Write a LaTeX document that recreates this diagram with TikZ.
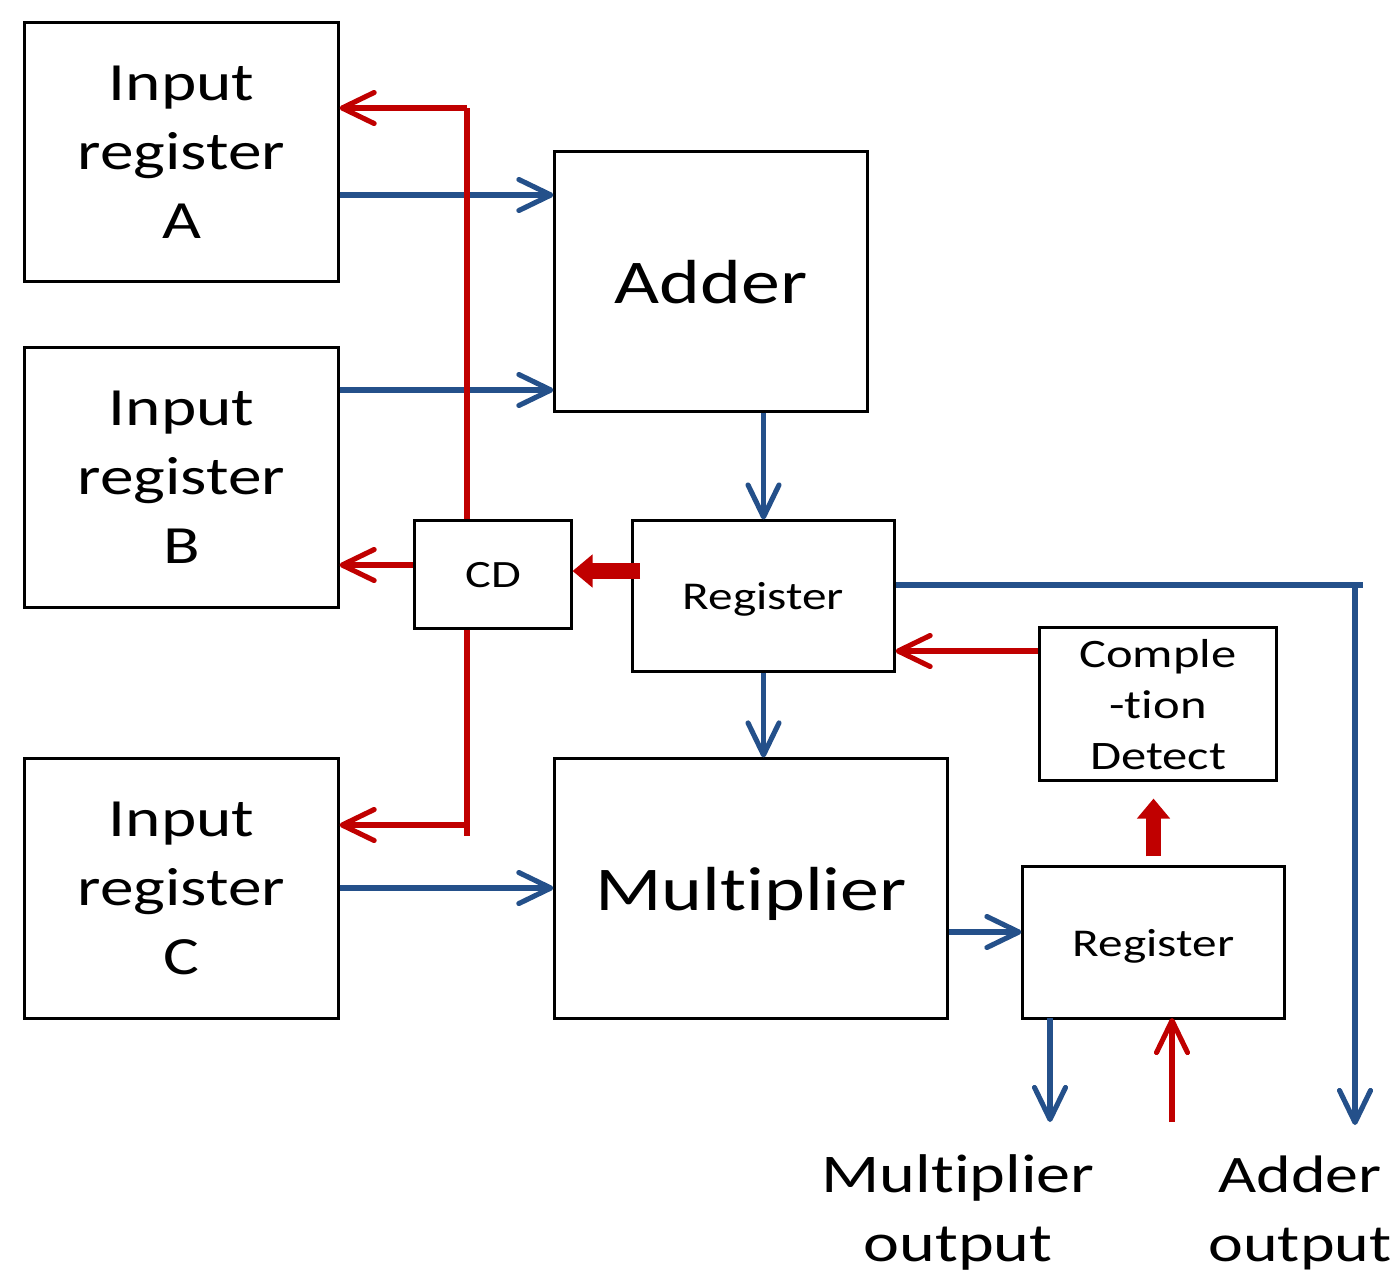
\documentclass[tikz,border=0pt]{standalone}
\usepackage{fontspec}
\setmainfont[FakeStretch=1.25, Ligatures={NoCommon}]{Carlito}
\usetikzlibrary{arrows.meta}
\definecolor{rd}{HTML}{C00000}
\definecolor{bl}{HTML}{24508A}
\tikzset{
  box/.style={draw=black, line width=0.85pt, inner sep=0pt, align=center, text depth=0pt},
  inbox/.style={box, minimum width=3.13cm, minimum height=2.59cm, font=\fontsize{15.3pt}{19.6pt}\selectfont},
  bigbox/.style={box, minimum height=2.59cm, font=\fontsize{17.7pt}{21pt}\selectfont},
  smallbox/.style={box, font=\fontsize{11.2pt}{14.5pt}\selectfont},
  barb/.style={-{Straight Barb[length=3.2mm,width=3.1mm,round]}, line width=1.45pt},
  bline/.style={barb, draw=bl},
  rline/.style={barb, draw=rd},
  bplain/.style={draw=bl, line width=1.45pt},
  rplain/.style={draw=rd, line width=1.45pt},
  fat/.style={draw=rd, line width=4.3pt, -{Triangle[length=2mm,width=3.2mm]}, rd},
  lbl/.style={align=center, inner sep=0pt, text depth=0pt, font=\fontsize{15.5pt}{19.6pt}\selectfont}
}
\begin{document}
\begin{tikzpicture}[x=0.01cm,y=-0.01cm]
\useasboundingbox (0,0) rectangle (1392,1275);
% boxes
\node[inbox] (ina) at (181.5,152) {Input\\register\\A};
\node[inbox] (inb) at (181.5,477.5) {Input\\register\\B};
\node[inbox] (inc) at (181.5,888.5) {Input\\register\\C};
\node[bigbox, minimum width=3.12cm] (adder) at (711,281.5) {Adder};
\node[bigbox, minimum width=3.92cm] (mult) at (751,888.5) {Multiplier};
\node[smallbox, minimum width=1.56cm, minimum height=1.07cm, font=\fontsize{11pt}{13pt}\selectfont] (cd) at (493,574.5) {CD};
\node[smallbox, minimum width=2.61cm, minimum height=1.50cm] (reg1) at (763.5,596) {Register};
\node[smallbox, minimum width=2.36cm, minimum height=1.52cm, font=\fontsize{11.5pt}{14.5pt}\selectfont] (comp) at (1158,704) {Comple\\-tion\\Detect};
\node[smallbox, minimum width=2.61cm, minimum height=1.51cm] (reg2) at (1153.5,942.5) {Register};
% output labels
\node[lbl] (mo) at (958,1208) {Multiplier\\output};
\node[lbl, font=\fontsize{15pt}{19.6pt}\selectfont] (ao) at (1300,1209) {Adder\\output};
% helper coordinates
\coordinate (yA) at (0,195);
\coordinate (yB) at (0,390);
\coordinate (yC) at (0,888);
\coordinate (vx) at (467,0);
\coordinate (tA) at (0,108);
\coordinate (tB) at (0,565);
\coordinate (tC) at (0,825);
\coordinate (tCend) at (467,836);
\coordinate (t1s) at (640,571);
\coordinate (yR) at (0,585);
\coordinate (aoH) at (1363,585);
\coordinate (aoT) at (1355,585);
\coordinate (aoE) at (1355,1125);
\coordinate (yCD) at (0,651);
\coordinate (yM) at (0,932);
\coordinate (moS) at (1050,1018);
\coordinate (moE) at (1050,1122);
\coordinate (rS) at (1172,1122);
\coordinate (rE) at (1172,1018);
% blue data paths
\draw[bline] (ina.east |- yA) -- (adder.west |- yA);
\draw[bline] (inb.east |- yB) -- (adder.west |- yB);
\draw[bline] (inc.east |- yC) -- (mult.west |- yC);
\draw[bline] (reg1.north |- adder.south) -- (reg1.north);
\draw[bline] (reg1.south) -- (reg1.south |- mult.north);
\draw[bline] (mult.east |- yM) -- (reg2.west |- yM);
\draw[bplain] (reg1.east |- yR) -- (aoH);
\draw[bline] (aoT) -- (aoE);
\draw[bline] (moS) -- (moE);
% red control paths
\draw[rplain] (cd.north -| vx) -- (vx |- tA);
\draw[rline] (vx |- tA) -- (ina.east |- tA);
\draw[rline] (cd.west |- tB) -- (inb.east |- tB);
\draw[rplain] (cd.south -| vx) -- (tCend);
\draw[rline] (vx |- tC) -- (inc.east |- tC);
\draw[fat] (t1s) -- (cd.east |- t1s);
\draw[rline] (comp.west |- yCD) -- (reg1.east |- yCD);
\draw[fat] ([yshift=0.09cm]reg2.north) -- ([yshift=-0.17cm]reg2.north |- comp.south);
\draw[rline] (rS) -- (rE);
\end{tikzpicture}
\end{document}
